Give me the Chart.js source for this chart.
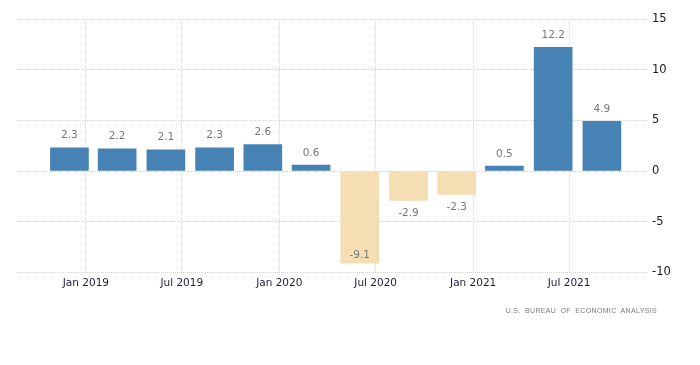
<!DOCTYPE html>
<html>
<head>
<meta charset="utf-8">
<script src="https://cdn.jsdelivr.net/npm/chart.js@4/dist/chart.umd.min.js"></script>
<style>
  html, body { margin: 0; padding: 0; background: #fff; }
  #wrap { position: relative; width: 700px; height: 365px; }
  #source {
    position: absolute; right: 43px; top: 307px; line-height: 10px;
    font: 7px "Liberation Sans", sans-serif; letter-spacing: 0.35px; word-spacing: 2px;
    color: #7a7a7a;
  }
</style>
</head>
<body>
<div id="wrap">
  <canvas id="gdpChart" width="700" height="365"></canvas>
  <div id="source">U.S. BUREAU OF ECONOMIC ANALYSIS</div>
</div>
<script>
const quarterDates = ['2018-12-01', '2019-03-01', '2019-06-01', '2019-09-01', '2019-12-01', '2020-03-01',
  '2020-06-01', '2020-09-01', '2020-12-01', '2021-03-01', '2021-06-01', '2021-09-01'];
const growthValues = [2.3, 2.2, 2.1, 2.3, 2.6, 0.6, -9.1, -2.9, -2.3, 0.5, 12.2, 4.9];
const tickDates = ['2019-01-01', '2019-07-01', '2020-01-01', '2020-07-01', '2021-01-01', '2021-07-01'];
const tickLabels = ['Jan 2019', 'Jul 2019', 'Jan 2020', 'Jul 2020', 'Jan 2021', 'Jul 2021'];
const yTickLabels = [15, 10, 5, 0, -5, -10];

const ts = d => new Date(d).getTime();

// value labels above / below each bar
const valueLabels = {
  id: 'valueLabels',
  afterDatasetsDraw(chart) {
    const ctx = chart.ctx;
    const area = chart.chartArea;
    const meta = chart.getDatasetMeta(0);
    ctx.save();
    ctx.font = '10.5px "DejaVu Sans", sans-serif';
    ctx.fillStyle = '#777';
    ctx.textAlign = 'center';
    ctx.textBaseline = 'middle';
    meta.data.forEach((bar, i) => {
      const v = growthValues[i];
      let y;
      if (v >= 0) {
        y = bar.y - 12;
      } else {
        y = bar.y + 13;
        if (y + 6 > area.bottom) y = bar.y - 8;
      }
      ctx.fillText(v.toFixed(1), bar.x, y);
    });
    ctx.restore();
  }
};

new Chart(document.getElementById('gdpChart'), {
  type: 'bar',
  data: {
    datasets: [{
      data: quarterDates.map((d, i) => ({ x: ts(d), y: growthValues[i] })),
      backgroundColor: growthValues.map(v => v < 0 ? '#f5deb3' : '#4682b4'),
      barThickness: 38
    }]
  },
  plugins: [valueLabels],
  options: {
    responsive: false,
    animation: false,
    layout: { padding: { left: 17, right: 0, top: 19, bottom: 70 } },
    plugins: { legend: { display: false }, tooltip: { enabled: false } },
    scales: {
      x: {
        type: 'linear',
        offset: false,
        min: ts('2018-08-24'),
        max: ts('2021-11-27'),
        afterBuildTicks: scale => { scale.ticks = tickDates.map(d => ({ value: ts(d) })); },
        ticks: {
          autoSkip: false,
          maxRotation: 0,
          padding: 5,
          color: '#1c1c3c',
          font: { family: 'DejaVu Sans', size: 10.5 },
          callback: (v, i) => tickLabels[i]
        },
        grid: { offset: false, color: '#d4d4d4', drawTicks: false },
        border: { display: false, dash: [1, 1] }
      },
      y: {
        position: 'right',
        min: -10,
        max: 15,
        afterBuildTicks: scale => { scale.ticks = yTickLabels.map(v => ({ value: v })); },
        afterFit: scale => { scale.width = 52; },
        ticks: {
          padding: 4,
          color: '#1a1a1a',
          font: { family: 'DejaVu Sans', size: 11.5 }
        },
        grid: { color: '#d4d4d4', drawTicks: false },
        border: { display: false, dash: [1, 1] }
      }
    }
  }
});
</script>
</body>
</html>
